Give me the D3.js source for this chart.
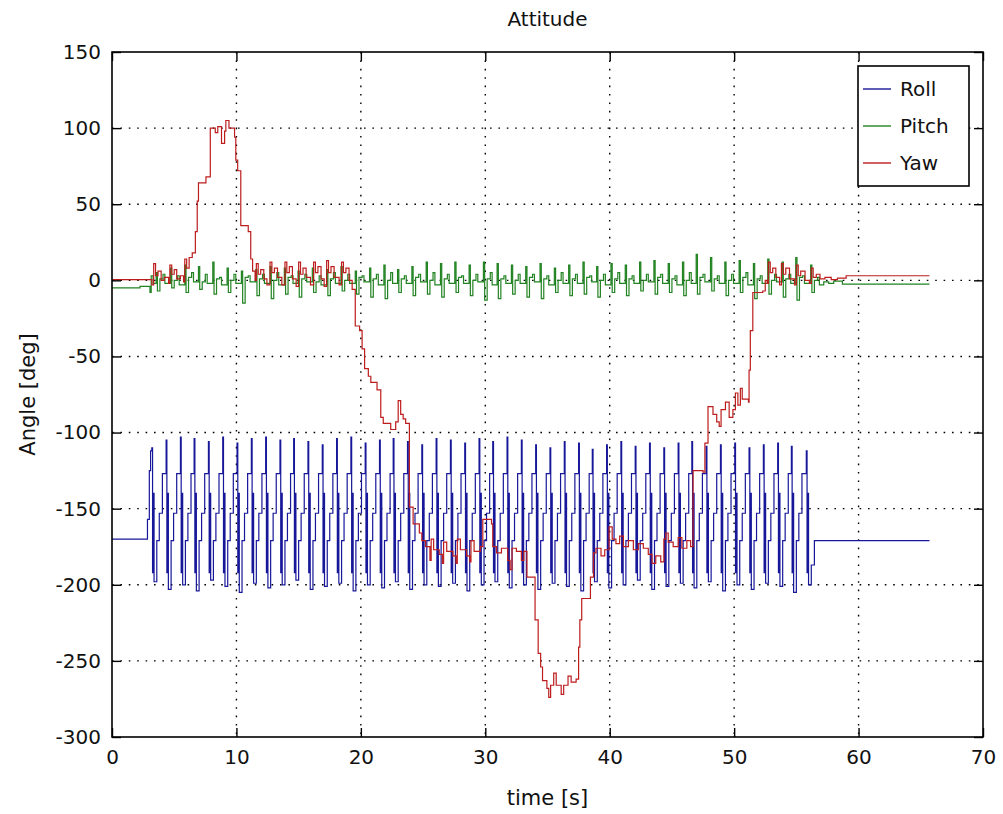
<!DOCTYPE html>
<html>
<head>
<meta charset="utf-8">
<script src="https://cdn.jsdelivr.net/npm/d3@7"></script>
<style>
  body { margin: 0; background: #fff; }
  text { font-family: "DejaVu Sans", Arial, sans-serif; fill: #111; }
</style>
</head>
<body>
<script>
// Attitude plot (roll / pitch / yaw vs time), MATLAB look

//////////////////////////////////////////////////////////////////////////////
// Data: [time s, angle deg]

let xTicks = [0, 10, 20, 30, 40, 50, 60, 70];
let yTicks = [150, 100, 50, 0, -50, -100, -150, -200, -250, -300];

let seriesNames = ["Roll", "Pitch", "Yaw"];
let seriesColors = ["#17179a", "#218321", "#bd1d1d"];

let roll = [
  [0, -170], [2.85, -157], [3.0, -125], [3.1, -112],
  [3.2, -110], [3.26, -192], [3.32, -140], [3.38, -198], [3.6, -171], [3.8, -153], [4.05, -127],
  [4.35, -105], [4.41, -192], [4.47, -140], [4.53, -203], [4.75, -171], [4.95, -153], [5.2, -127],
  [5.5, -103], [5.56, -192], [5.62, -140], [5.68, -200], [5.9, -171], [6.1, -153], [6.35, -127],
  [6.6, -104], [6.66, -192], [6.72, -140], [6.78, -204], [7.0, -171], [7.2, -153], [7.45, -127],
  [7.75, -106], [7.81, -192], [7.87, -140], [7.93, -197], [8.15, -171], [8.35, -153], [8.6, -127],
  [8.9, -103], [8.96, -192], [9.02, -140], [9.08, -201], [9.3, -171], [9.5, -153], [9.75, -127],
  [10.05, -107], [10.11, -192], [10.17, -140], [10.23, -205], [10.45, -171], [10.65, -153], [10.9, -127],
  [11.2, -104], [11.26, -192], [11.32, -140], [11.38, -199], [11.6, -171], [11.8, -153], [12.05, -127],
  [12.35, -103], [12.41, -192], [12.47, -140], [12.53, -202], [12.75, -171], [12.95, -153], [13.2, -127],
  [13.5, -105], [13.56, -192], [13.62, -140], [13.68, -200], [13.9, -171], [14.1, -153], [14.35, -127],
  [14.6, -104], [14.66, -192], [14.72, -140], [14.78, -197], [15.0, -171], [15.2, -153], [15.45, -127],
  [15.75, -106], [15.81, -192], [15.87, -140], [15.93, -203], [16.15, -171], [16.35, -153], [16.6, -127],
  [16.9, -108], [16.96, -192], [17.02, -140], [17.08, -201], [17.3, -171], [17.5, -153], [17.75, -127],
  [18.05, -104], [18.11, -192], [18.17, -140], [18.23, -199], [18.45, -171], [18.65, -153], [18.9, -127],
  [19.2, -103], [19.26, -192], [19.32, -140], [19.38, -204], [19.6, -171], [19.8, -153], [20.05, -127],
  [20.35, -107], [20.41, -192], [20.47, -140], [20.53, -200], [20.75, -171], [20.95, -153], [21.2, -127],
  [21.5, -105], [21.56, -192], [21.62, -140], [21.68, -202], [21.9, -171], [22.1, -153], [22.35, -127],
  [22.6, -104], [22.66, -192], [22.72, -140], [22.78, -198], [23.0, -171], [23.2, -153], [23.45, -127],
  [23.75, -106], [23.81, -192], [23.87, -140], [23.93, -203], [24.15, -171], [24.35, -153], [24.6, -127],
  [24.9, -108], [24.96, -192], [25.02, -140], [25.08, -200], [25.3, -171], [25.5, -153], [25.75, -127],
  [26.05, -104], [26.11, -192], [26.17, -140], [26.23, -201], [26.45, -171], [26.65, -153], [26.9, -127],
  [27.2, -105], [27.26, -192], [27.32, -140], [27.38, -199], [27.6, -171], [27.8, -153], [28.05, -127],
  [28.35, -107], [28.41, -192], [28.47, -140], [28.53, -204], [28.75, -171], [28.95, -153], [29.2, -127],
  [29.5, -104], [29.56, -192], [29.62, -140], [29.68, -200], [29.9, -171], [30.1, -153], [30.35, -127],
  [30.6, -106], [30.66, -192], [30.72, -140], [30.78, -198], [31.0, -171], [31.2, -153], [31.45, -127],
  [31.75, -103], [31.81, -192], [31.87, -140], [31.93, -202], [32.15, -171], [32.35, -153], [32.6, -127],
  [32.9, -105], [32.96, -192], [33.02, -140], [33.08, -200], [33.3, -171], [33.5, -153], [33.75, -127],
  [34.05, -108], [34.11, -192], [34.17, -140], [34.23, -203], [34.45, -171], [34.65, -153], [34.9, -127],
  [35.2, -110], [35.26, -192], [35.32, -140], [35.38, -199], [35.6, -171], [35.8, -153], [36.05, -127],
  [36.35, -106], [36.41, -192], [36.47, -140], [36.53, -201], [36.75, -171], [36.95, -153], [37.2, -127],
  [37.5, -107], [37.56, -192], [37.62, -140], [37.68, -204], [37.9, -171], [38.1, -153], [38.35, -127],
  [38.6, -111], [38.66, -192], [38.72, -140], [38.78, -198], [39.0, -171], [39.2, -153], [39.45, -127],
  [39.75, -108], [39.81, -192], [39.87, -140], [39.93, -202], [40.15, -171], [40.35, -153], [40.6, -127],
  [40.9, -106], [40.96, -192], [41.02, -140], [41.08, -200], [41.3, -171], [41.5, -153], [41.75, -127],
  [42.05, -109], [42.11, -192], [42.17, -140], [42.23, -197], [42.45, -171], [42.65, -153], [42.9, -127],
  [43.2, -107], [43.26, -192], [43.32, -140], [43.38, -203], [43.6, -171], [43.8, -153], [44.05, -127],
  [44.35, -110], [44.41, -192], [44.47, -140], [44.53, -201], [44.75, -171], [44.95, -153], [45.2, -127],
  [45.5, -107], [45.56, -192], [45.62, -140], [45.68, -199], [45.9, -171], [46.1, -153], [46.35, -127],
  [46.6, -106], [46.66, -192], [46.72, -140], [46.78, -202], [47.0, -171], [47.2, -153], [47.45, -127],
  [47.75, -109], [47.81, -192], [47.87, -140], [47.93, -198], [48.15, -171], [48.35, -153], [48.6, -127],
  [48.9, -108], [48.96, -192], [49.02, -140], [49.08, -204], [49.3, -171], [49.5, -153], [49.75, -127],
  [50.05, -107], [50.11, -192], [50.17, -140], [50.23, -200], [50.45, -171], [50.65, -153], [50.9, -127],
  [51.2, -110], [51.26, -192], [51.32, -140], [51.38, -203], [51.6, -171], [51.8, -153], [52.05, -127],
  [52.35, -108], [52.41, -192], [52.47, -140], [52.53, -199], [52.75, -171], [52.95, -153], [53.2, -127],
  [53.5, -107], [53.56, -192], [53.62, -140], [53.68, -201], [53.9, -171], [54.1, -153], [54.35, -127],
  [54.6, -109], [54.66, -192], [54.72, -140], [54.78, -205], [55.0, -171], [55.2, -153], [55.45, -127],
  [55.8, -112], [55.86, -192], [55.92, -140], [55.98, -200], [56.2, -187], [56.45, -171], [65.7, -171]
];

let pitch = [
  [0, -5], [2.25, -4], [3.05, -8], [3.15, 3], [3.3, -2],
  [3.55, 5], [3.65, -7], [3.85, 1], [4.1, 4], [4.25, -2],
  [4.7, 8], [4.8, -5], [5.0, 0], [5.25, 3], [5.4, -3],
  [5.85, 10], [5.95, -8], [6.15, 2], [6.4, 5], [6.55, -1],
  [6.95, 9], [7.05, -6], [7.25, -1], [7.5, 4], [7.65, -2],
  [8.1, 12], [8.2, -9], [8.4, 1], [8.65, 2], [8.8, -3],
  [9.25, 8], [9.35, -8], [9.55, 0], [9.8, 4], [9.95, -2],
  [10.4, 6], [10.5, -15], [10.7, 2], [10.95, 3], [11.1, -1],
  [11.55, 7], [11.65, -10], [11.85, 1], [12.1, 4], [12.25, -2],
  [12.7, 9], [12.8, -12], [13.0, 0], [13.25, 5], [13.4, -3],
  [13.85, 8], [13.95, -9], [14.15, 2], [14.4, 3], [14.55, -2],
  [14.95, 6], [15.05, -11], [15.25, 1], [15.5, 4], [15.65, -1],
  [16.1, 8], [16.2, -8], [16.4, -1], [16.65, 3], [16.8, -3],
  [17.25, 7], [17.35, -10], [17.55, 1], [17.8, 5], [17.95, -2],
  [18.4, 9], [18.5, -7], [18.7, 0], [18.95, 4], [19.1, -2],
  [19.55, 6], [19.65, -9], [19.85, 2], [20.1, 3], [20.25, -1],
  [20.7, 8], [20.8, -11], [21.0, 1], [21.25, 4], [21.4, -3],
  [21.85, 10], [21.95, -12], [22.15, 0], [22.4, 5], [22.55, -2],
  [22.95, 7], [23.05, -8], [23.25, 1], [23.5, 3], [23.65, -2],
  [24.1, 9], [24.2, -10], [24.4, 2], [24.65, 4], [24.8, -1],
  [25.25, 12], [25.35, -9], [25.55, 0], [25.8, 5], [25.95, -3],
  [26.4, 11], [26.5, -11], [26.7, 1], [26.95, 4], [27.1, -2],
  [27.55, 12], [27.65, -8], [27.85, 2], [28.1, 3], [28.25, -2],
  [28.7, 10], [28.8, -10], [29.0, 0], [29.25, 4], [29.4, -1],
  [29.85, 12], [29.95, -13], [30.15, 1], [30.4, 5], [30.55, -3],
  [30.95, 11], [31.05, -12], [31.25, 1], [31.5, 3], [31.65, -2],
  [32.1, 10], [32.2, -9], [32.4, 0], [32.65, 4], [32.8, -2],
  [33.25, 9], [33.35, -11], [33.55, 2], [33.8, 4], [33.95, -1],
  [34.4, 11], [34.5, -12], [34.7, 1], [34.95, 3], [35.1, -3],
  [35.55, 8], [35.65, -8], [35.85, 0], [36.1, 5], [36.25, -2],
  [36.7, 10], [36.8, -10], [37.0, 1], [37.25, 4], [37.4, -2],
  [37.85, 12], [37.95, -9], [38.15, 2], [38.4, 3], [38.55, -1],
  [38.95, 9], [39.05, -11], [39.25, 0], [39.5, 4], [39.65, -3],
  [40.1, 11], [40.2, -8], [40.4, 1], [40.65, 5], [40.8, -2],
  [41.25, 10], [41.35, -10], [41.55, 1], [41.8, 3], [41.95, -2],
  [42.4, 12], [42.5, -7], [42.7, 0], [42.95, 4], [43.1, -1],
  [43.55, 13], [43.65, -9], [43.85, 2], [44.1, 4], [44.25, -2],
  [44.7, 11], [44.8, -8], [45.0, 1], [45.25, 3], [45.4, -3],
  [45.85, 12], [45.95, -10], [46.15, 0], [46.4, 5], [46.55, -2],
  [46.95, 17], [47.05, -9], [47.25, 2], [47.5, 4], [47.65, -1],
  [48.1, 15], [48.2, -7], [48.4, 1], [48.65, 3], [48.8, -2],
  [49.25, 12], [49.35, -10], [49.55, 0], [49.8, 4], [49.95, -2],
  [50.4, 13], [50.5, -8], [50.7, 2], [50.95, 5], [51.1, -3],
  [51.55, 11], [51.65, -12], [51.85, 1], [52.1, 3], [52.25, -2],
  [52.7, 14], [52.8, -9], [53.0, 0], [53.25, 4], [53.4, -1],
  [53.85, 12], [53.95, -11], [54.15, 1], [54.4, 4], [54.55, -2],
  [54.95, 15], [55.05, -13], [55.25, 2], [55.5, 3], [55.65, -2],
  [56.15, 10], [56.25, -8], [56.45, 0], [56.7, 2], [56.85, -3],
  [57.2, -1], [57.6, -2], [58.0, -0.5], [58.7, -2.5], [65.7, -2.5]
];

let yaw = [
  [0, 0.5], [3.1, 0.5],
  [3.2, -3], [3.35, 11], [3.5, 3], [3.7, 6], [3.95, 0], [4.2, 2], [4.55, -2], [4.65, 10],
  [4.8, 4], [5.0, 7], [5.2, 1], [5.5, 3], [5.75, -1], [5.85, 14], [6.0, 8], [6.2, 15], [6.45, 18],
  [6.7, 32], [6.85, 52], [6.95, 64], [7.55, 68], [7.9, 100], [8.3, 97], [8.5, 101], [8.8, 90],
  [9.05, 98], [9.15, 105], [9.4, 100], [9.85, 94], [9.95, 79], [10.1, 72], [10.35, 36],
  [10.95, 32], [11.15, 14], [11.3, 6],
  [11.5, 0], [11.6, 11], [11.75, 4], [11.95, 7], [12.2, 1], [12.45, -3], [12.7, 12], [12.85, 5],
  [13.05, 8], [13.3, 2], [13.65, -3], [13.9, 12], [14.05, 5], [14.25, 9], [14.5, 1], [14.8, -4],
  [15.0, 12], [15.15, 4], [15.35, 8], [15.6, 2], [15.95, -3], [16.2, 12], [16.35, 5], [16.55, 9],
  [16.8, 1], [17.05, -4], [17.25, 13], [17.4, 5], [17.6, 9], [17.85, 2], [18.25, -3], [18.45, 12],
  [18.6, 5], [18.8, 8], [19.05, 0], [19.3, -6],
  [19.55, -30], [19.9, -33], [20.1, -45], [20.3, -58], [20.6, -63], [20.8, -67], [21.3, -72],
  [21.6, -90], [21.8, -94], [22.4, -98], [22.8, -93], [23.0, -79], [23.2, -88], [23.4, -91],
  [23.6, -94], [23.9, -149], [24.2, -160], [24.7, -166], [24.9, -171],
  [25.2, -175], [25.55, -184], [25.65, -170], [25.85, -177], [26.3, -180], [26.55, -186],
  [26.65, -172], [26.9, -178], [27.4, -181], [27.65, -186], [27.75, -170], [28.0, -177],
  [28.5, -181], [28.75, -185], [28.85, -171], [29.1, -178], [29.6, -175],
  [29.8, -157], [30.5, -160], [30.6, -175], [30.9, -179], [31.3, -176], [31.8, -184], [32.0, -190],
  [32.15, -176], [32.5, -178], [32.9, -184], [33.1, -178], [33.35, -195], [34.0, -223],
  [34.25, -245], [34.45, -254], [34.6, -263], [34.95, -268], [35.1, -274], [35.25, -266],
  [35.5, -258], [35.7, -266], [36.1, -272], [36.3, -266], [36.65, -260], [36.9, -264],
  [37.3, -262], [37.5, -241], [37.6, -223], [37.75, -209], [38.45, -195], [38.7, -179],
  [38.9, -176], [39.3, -181], [39.6, -177], [39.95, -162], [40.2, -170], [40.5, -173],
  [40.8, -168], [41.1, -175], [41.5, -171], [41.9, -177], [42.3, -173], [42.7, -176],
  [43.1, -180], [43.4, -186], [43.7, -181], [44.1, -185], [44.35, -170], [44.5, -166],
  [44.7, -172], [45.1, -175], [45.5, -169], [45.8, -176], [46.2, -171], [46.5, -175],
  [46.7, -125], [47.5, -126], [47.65, -107], [47.9, -83], [48.3, -88], [48.6, -93], [48.8, -96],
  [48.95, -85], [49.3, -80], [49.6, -90], [49.9, -85], [50.1, -74], [50.3, -82], [50.5, -71],
  [50.65, -78], [51.15, -80], [51.2, -59], [51.3, -33], [51.5, -8], [52.3, -7], [52.5, 0],
  [52.65, -2], [52.75, 12], [52.9, 5], [53.1, 8], [53.35, 2], [53.65, -3], [53.8, 11],
  [53.95, 4], [54.15, 8], [54.45, 1], [54.85, -3], [55.0, 10], [55.15, 3], [55.35, 6],
  [55.7, 0], [56.05, -2], [56.2, 8], [56.35, 2], [56.6, 4], [56.9, 1], [57.3, 2], [57.8, 0.5],
  [58.3, 1.5], [59.0, 3], [65.7, 3]
];

let allSeries = [roll, pitch, yaw];

//////////////////////////////////////////////////////////////////////////////
// Canvas and scales

let width = 1003;
let height = 814;
let plotLeft = 112, plotRight = 983, plotTop = 52, plotBottom = 737;

let svg = d3.select("body").append("svg")
  .attr("width", width)
  .attr("height", height);

let x = d3.scaleLinear().domain([0, 70]).range([plotLeft, plotRight]);
let y = d3.scaleLinear().domain([-300, 150]).range([plotBottom, plotTop]);

// dotted grid
svg.append("g").selectAll("line")
  .data(xTicks.slice(1, -1))
  .join("line")
  .attr("x1", d => x(d)).attr("x2", d => x(d))
  .attr("y1", plotTop).attr("y2", plotBottom)
  .attr("stroke", "#000").attr("stroke-width", 1.4)
  .attr("stroke-dasharray", "1.6,6.8");

svg.append("g").selectAll("line")
  .data(yTicks.slice(1, -1))
  .join("line")
  .attr("y1", d => y(d)).attr("y2", d => y(d))
  .attr("x1", plotLeft).attr("x2", plotRight)
  .attr("stroke", "#000").attr("stroke-width", 1.4)
  .attr("stroke-dasharray", "1.6,6.8");

// series
let line = d3.line()
  .x(d => x(d[0]))
  .y(d => y(d[1]))
  .curve(d3.curveStepAfter);

svg.append("g").selectAll("path")
  .data(allSeries)
  .join("path")
  .attr("d", line)
  .attr("fill", "none")
  .attr("stroke", (d, i) => seriesColors[i])
  .attr("stroke-width", 1.2);

// axes, ticks pointing inward on every side; plain hyphen for negatives
let plainNumber = d => String(d);

let xAxis = svg.append("g")
  .attr("transform", `translate(0,${plotBottom})`)
  .call(d3.axisBottom(x).tickValues(xTicks).tickFormat(plainNumber)
    .tickSizeInner(-9).tickSizeOuter(0).tickPadding(13));
let yAxis = svg.append("g")
  .attr("transform", `translate(${plotLeft},0)`)
  .call(d3.axisLeft(y).tickValues(yTicks).tickFormat(plainNumber)
    .tickSizeInner(-9).tickSizeOuter(0).tickPadding(11));
let xTop = svg.append("g")
  .attr("transform", `translate(0,${plotTop})`)
  .call(d3.axisTop(x).tickValues(xTicks).tickSizeInner(-9).tickSizeOuter(0).tickFormat(""));
let yRight = svg.append("g")
  .attr("transform", `translate(${plotRight},0)`)
  .call(d3.axisRight(y).tickValues(yTicks).tickSizeInner(-9).tickSizeOuter(0).tickFormat(""));

[xAxis, yAxis, xTop, yRight].forEach(g => {
  g.select(".domain").remove();
  g.selectAll(".tick line").attr("stroke", "#000").attr("stroke-width", 1.4);
  g.selectAll(".tick text")
    .style("font-family", '"DejaVu Sans", Arial, sans-serif')
    .style("font-size", "20px")
    .attr("fill", "#1a1a1a");
});

svg.append("rect")
  .attr("x", plotLeft).attr("y", plotTop)
  .attr("width", plotRight - plotLeft).attr("height", plotBottom - plotTop)
  .attr("fill", "none").attr("stroke", "#000").attr("stroke-width", 1.6);

// title and labels
svg.append("text")
  .attr("x", (plotLeft + plotRight) / 2).attr("y", 26)
  .attr("text-anchor", "middle")
  .style("font-size", "20px")
  .text("Attitude");

svg.append("text")
  .attr("x", (plotLeft + plotRight) / 2).attr("y", 805)
  .attr("text-anchor", "middle")
  .style("font-size", "21px")
  .text("time [s]");

svg.append("text")
  .attr("transform", `translate(35,${(plotTop + plotBottom) / 2}) rotate(-90)`)
  .attr("text-anchor", "middle")
  .style("font-size", "21px")
  .text("Angle [deg]");

//////////////////////////////////////////////////////////////////////////////
// Legend

let legend = svg.append("g").attr("transform", "translate(858,66)");

legend.append("rect")
  .attr("width", 111).attr("height", 120)
  .attr("fill", "#fff").attr("stroke", "#000").attr("stroke-width", 1.6);

let rows = legend.selectAll(".row")
  .data(seriesNames)
  .join("g")
  .attr("class", "row")
  .attr("transform", (d, i) => `translate(0,${23 + i * 37})`);

rows.append("line")
  .attr("x1", 5).attr("x2", 33)
  .attr("stroke", (d, i) => seriesColors[i])
  .attr("stroke-width", 1.4);

rows.append("text")
  .attr("x", 42).attr("y", 7)
  .style("font-size", "20px")
  .text(d => d);
</script>
</body>
</html>
